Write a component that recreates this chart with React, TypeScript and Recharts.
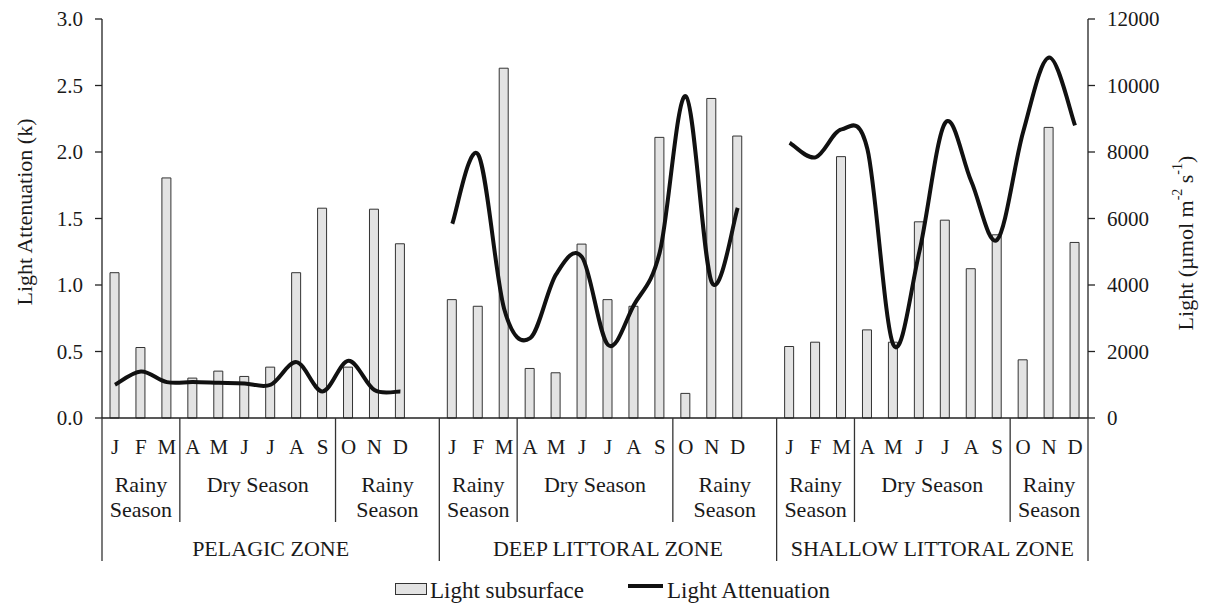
import {
  Bar,
  ComposedChart,
  Legend,
  Line,
  XAxis,
  YAxis,
} from 'recharts';

const MONTHS = ['J', 'F', 'M', 'A', 'M', 'J', 'J', 'A', 'S', 'O', 'N', 'D'];
const ZONES = ['PELAGIC ZONE', 'DEEP LITTORAL ZONE', 'SHALLOW LITTORAL ZONE'];

// light subsurface, µmol m-2 s-1 (right axis)
const pelagicLight = [4370, 2120, 7220, 1200, 1410, 1250, 1530, 4370, 6310, 1530, 6280, 5240];
const deepLight = [3560, 3360, 10520, 1490, 1360, 5230, 3560, 3360, 8440, 740, 9610, 8480];
const shallowLight = [2150, 2280, 7860, 2650, 2280, 5900, 5950, 4490, 5510, 1750, 8740, 5280];

// light attenuation k (left axis)
const pelagicK = [0.25, 0.35, 0.27, 0.27, 0.265, 0.26, 0.25, 0.42, 0.2, 0.43, 0.21, 0.2];
const deepK = [1.46, 1.98, 0.82, 0.6, 1.08, 1.21, 0.55, 0.85, 1.25, 2.42, 1.02, 1.58];
const shallowK = [2.07, 1.96, 2.17, 2.02, 0.55, 1.25, 2.22, 1.78, 1.34, 2.15, 2.71, 2.2];

const leftTicks = [0, 0.5, 1, 1.5, 2, 2.5, 3];
const rightTicks = [0, 2000, 4000, 6000, 8000, 10000, 12000];

const lightByZone = [pelagicLight, deepLight, shallowLight];
const kByZone = [pelagicK, deepK, shallowK];

type Row = { key: string; zone: number; month: number; light: number | null; k: number | null };

const chartData: Row[] = [];
ZONES.forEach((_, z) => {
  MONTHS.forEach((_, m) => {
    chartData.push({ key: `${z}-${m}`, zone: z, month: m, light: lightByZone[z][m], k: kByZone[z][m] });
  });
  if (z < ZONES.length - 1) chartData.push({ key: `gap-${z}`, zone: z, month: -1, light: null, k: null });
});

const W = 1207;
const H = 609;
const LEFT_W = 102;
const RIGHT_W = 119;
const STEP = (W - LEFT_W - RIGHT_W) / chartData.length;
const FONT = "'Times New Roman', 'Liberation Serif', 'DejaVu Serif', serif";
const INK = '#1a1a1a';

// Excel-like smoothed line (Catmull-Rom through the points)
function smoothCurve(context: any) {
  let pts: number[][] = [];
  return {
    areaStart() {},
    areaEnd() {},
    lineStart() {
      pts = [];
    },
    point(x: number, y: number) {
      pts.push([+x, +y]);
    },
    lineEnd() {
      if (!pts.length) return;
      context.moveTo(pts[0][0], pts[0][1]);
      for (let i = 0; i < pts.length - 1; i++) {
        const p0 = pts[i - 1] || pts[i];
        const p1 = pts[i];
        const p2 = pts[i + 1];
        const p3 = pts[i + 2] || p2;
        context.bezierCurveTo(
          p1[0] + (p2[0] - p0[0]) / 6,
          p1[1] + (p2[1] - p0[1]) / 6,
          p2[0] - (p3[0] - p1[0]) / 6,
          p2[1] - (p3[1] - p1[1]) / 6,
          p2[0],
          p2[1],
        );
      }
    },
  };
}

function Label2({ x, y, lines }: { x: number; y: number; lines: string[] }) {
  return (
    <text x={x} y={y} textAnchor="middle" style={{ fontFamily: FONT }} fontSize={22} fill={INK}>
      {lines.map((l, i) => (
        <tspan key={i} x={x} dy={i === 0 ? 0 : 25}>
          {l}
        </tspan>
      ))}
    </text>
  );
}

function MonthTick(props: any) {
  const { x, y, payload } = props;
  const row = chartData[payload.index];
  if (!row || row.month < 0) return <g />;
  const z = row.zone;
  const m = row.month;
  const half = STEP / 2;
  const last = z === ZONES.length - 1;
  return (
    <g>
      <text x={x} y={y + 36} textAnchor="middle" style={{ fontFamily: FONT }} fontSize={21} fill={INK}>
        {MONTHS[m]}
      </text>
      {m === 0 && <line x1={x - half} x2={x - half} y1={y} y2={y + 143} stroke="#333" strokeWidth={1.3} />}
      {(m === 3 || m === 9) && <line x1={x - half} x2={x - half} y1={y} y2={y + 104} stroke="#333" strokeWidth={1.3} />}
      {last && m === 11 && <line x1={x + half} x2={x + half} y1={y} y2={y + 143} stroke="#333" strokeWidth={1.3} />}
      {m === 1 && <Label2 x={x} y={y + 74} lines={['Rainy', 'Season']} />}
      {m === 5 && <Label2 x={x + half} y={y + 74} lines={['Dry Season']} />}
      {m === 10 && <Label2 x={last ? x : x + half} y={y + 74} lines={['Rainy', 'Season']} />}
      {m === 6 && !last && <Label2 x={x} y={y + 138} lines={[ZONES[z]]} />}
      {m === 5 && last && <Label2 x={x + half} y={y + 138} lines={[ZONES[z]]} />}
    </g>
  );
}

function LegendContent() {
  return (
    <svg width={W} height={30} style={{ display: 'block' }}>
      <rect x={395.5} y={5.5} width={31} height={11} fill="#e3e3e3" stroke="#333" strokeWidth={1} />
      <text x={430} y={20} style={{ fontFamily: FONT }} fontSize={23} fill={INK}>
        Light subsurface
      </text>
      <line x1={628} x2={663} y1={8} y2={8} stroke="#111" strokeWidth={4} />
      <text x={667} y={20} style={{ fontFamily: FONT }} fontSize={23} fill={INK}>
        Light Attenuation
      </text>
    </svg>
  );
}

export default function App() {
  return (
    <div style={{ position: 'absolute', left: 0, top: 0, width: W, height: H, background: '#fff', fontFamily: FONT }}>
      <ComposedChart width={W} height={H} data={chartData} margin={{ top: 19, right: 0, left: 0, bottom: 0 }}>
        <XAxis
          dataKey="key"
          interval={0}
          height={H - 418}
          tickLine={false}
          tickSize={0}
          tickMargin={0}
          tick={<MonthTick />}
          axisLine={{ stroke: '#222', strokeWidth: 1.3 }}
        />
        <YAxis
          yAxisId="left"
          orientation="left"
          width={LEFT_W}
          domain={[0, 3]}
          ticks={leftTicks}
          tickFormatter={(v: number) => v.toFixed(1)}
          tickSize={7}
          tickMargin={12}
          axisLine={{ stroke: '#222', strokeWidth: 1.3 }}
          tickLine={{ stroke: '#222', strokeWidth: 1.3 }}
          tick={{ style: { fontFamily: FONT }, fontSize: 21, fill: INK }}
          label={() => (
            <text
              x={24}
              y={212}
              transform="rotate(-90 24 212)"
              textAnchor="middle"
              dominantBaseline="central"
              style={{ fontFamily: FONT }}
              fontSize={22}
              fill={INK}
            >
              Light Attenuation (k)
            </text>
          )}
        />
        <YAxis
          yAxisId="right"
          orientation="right"
          width={RIGHT_W}
          domain={[0, 12000]}
          ticks={rightTicks}
          tickSize={7}
          tickMargin={12}
          axisLine={{ stroke: '#222', strokeWidth: 1.3 }}
          tickLine={{ stroke: '#222', strokeWidth: 1.3 }}
          tick={{ style: { fontFamily: FONT }, fontSize: 21, fill: INK }}
          label={() => (
            <text
              x={1185}
              y={243}
              transform="rotate(-90 1185 243)"
              textAnchor="middle"
              dominantBaseline="central"
              style={{ fontFamily: FONT }}
              fontSize={22}
              fill={INK}
            >
              Light (µmol m
              <tspan fontSize={14} dy={-8}>-2</tspan>
              <tspan dy={8}> s</tspan>
              <tspan fontSize={14} dy={-8}>-1</tspan>
              <tspan dy={8}>)</tspan>
            </text>
          )}
        />
        <Legend
          layout="horizontal"
          verticalAlign="middle"
          wrapperStyle={{ top: 578, left: 0, width: W }}
          content={() => <LegendContent />}
        />
        <Bar
          yAxisId="right"
          dataKey="light"
          name="Light subsurface"
          barSize={9}
          fill="#e3e3e3"
          stroke="#333"
          strokeWidth={1}
          isAnimationActive={false}
        />
        <Line
          yAxisId="left"
          dataKey="k"
          name="Light Attenuation"
          type={smoothCurve as any}
          stroke="#111"
          strokeWidth={4}
          dot={false}
          activeDot={false}
          connectNulls={false}
          isAnimationActive={false}
        />
      </ComposedChart>
    </div>
  );
}
